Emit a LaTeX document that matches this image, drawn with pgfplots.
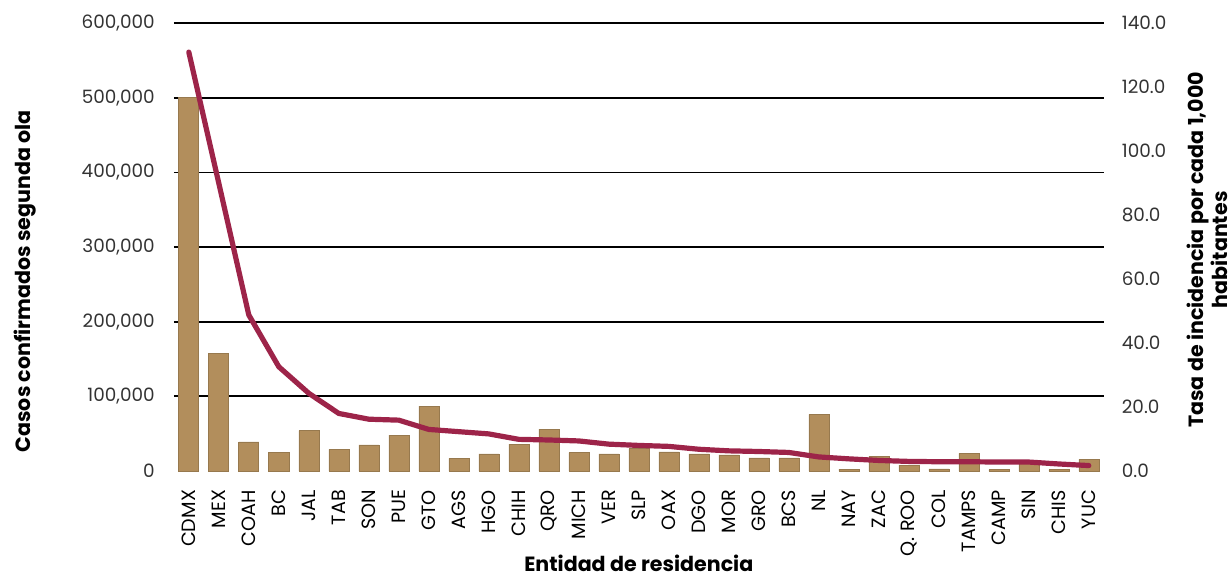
\documentclass[border=0pt]{standalone}
\usepackage{fontspec}
\setmainfont{Poppins}
\usepackage{pgfplots}
\usepackage{pgfplotstable}
\pgfplotsset{compat=1.18}
\definecolor{barcol}{HTML}{B28E5C}
\definecolor{linecol}{HTML}{9D2449}
\definecolor{txt}{HTML}{333333}

% casos confirmados y tasa por 1,000 habitantes
\pgfplotstableread{
x cases rate
0  501000 131.0
1  158000 90.0
2  39000  48.8
3  24500  32.6
4  54000  24.3
5  29000  18.0
6  35000  16.2
7  48000  15.9
8  87000  13.0
9  17000  12.3
10 22800  11.6
11 36000  9.9
12 56000  9.7
13 24500  9.4
14 22800  8.4
15 30000  8.0
16 25500  7.7
17 23000  6.8
18 21500  6.3
19 17500  6.1
20 17500  5.8
21 76000  4.4
22 2500   3.8
23 20000  3.3
24 8000   3.0
25 2700   2.9
26 23700  2.9
27 1800   2.8
28 12000  2.8
29 1800   2.2
30 15500  1.7
}\datatable

\tikzset{lbl/.style={font=\bfseries\fontsize{10.3}{12}\selectfont, color=black}}

\begin{document}
\begin{tikzpicture}
\useasboundingbox (-86.9pt,-54pt) rectangle (529.1pt,235.5pt);
\pgfplotsset{
  base/.style={
    scale only axis,
    width=465pt, height=223.85pt,
    xmin=-0.5, xmax=30.5,
    font=\fontsize{9.2}{11}\selectfont\color{txt},
    /pgf/number format/assume math mode=true,
    tick style={draw=none},
  },
}
\begin{axis}[
  base,
  ymin=0, ymax=600000,
  axis x line*=bottom, axis y line*=left,
  x axis line style={draw=none},
  y axis line style={draw=none},
  xtick=data,
  xticklabels={CDMX,MEX,COAH,BC,JAL,TAB,SON,PUE,GTO,AGS,HGO,CHIH,QRO,MICH,VER,SLP,OAX,DGO,MOR,GRO,BCS,NL,NAY,ZAC,{Q. ROO},COL,TAMPS,CAMP,SIN,CHIS,YUC},
  xticklabel style={rotate=90, anchor=east, font=\fontsize{9.6}{11}\selectfont},
  xticklabel shift=6pt,
  ytick={0,100000,...,600000},
  scaled y ticks=false,
  yticklabel style={/pgf/number format/.cd, fixed, 1000 sep={,}},
  yticklabel shift=6pt,
  extra y ticks={100000,200000,...,600000},
  extra y tick labels={},
  extra y tick style={ymajorgrids=true, major grid style={black, line width=0.9pt}},
  xlabel={Entidad de residencia},
  xlabel style={lbl, at={([yshift=-46pt]rel axis cs:0.5,0)}, anchor=center},
  ylabel={Casos confirmados segunda ola},
  ylabel style={lbl, at={([xshift=-74.4pt]rel axis cs:0,0.424)}, anchor=center},
]
\addplot[ybar, bar width=10pt, fill=barcol, draw=barcol!85!black, line width=0.3pt]
  table[x=x, y=cases] {\datatable};
\end{axis}
\begin{axis}[
  base,
  ymin=0, ymax=140,
  axis y line*=right,
  axis x line=none,
  y axis line style={draw=none},
  ytick={0,20,...,140},
  yticklabel style={/pgf/number format/.cd, fixed, fixed zerofill, precision=1},
  yticklabel shift=5.5pt,
  ylabel={Tasa de incidencia por cada 1,000\\habitantes},
  ylabel style={lbl, at={([xshift=51.7pt]rel axis cs:1,0.494)}, anchor=center, align=center},
]
\addplot[color=linecol, line width=2.6pt, line cap=round, line join=round, mark=none]
  table[x=x, y=rate] {\datatable};
\end{axis}
\end{tikzpicture}
\end{document}
